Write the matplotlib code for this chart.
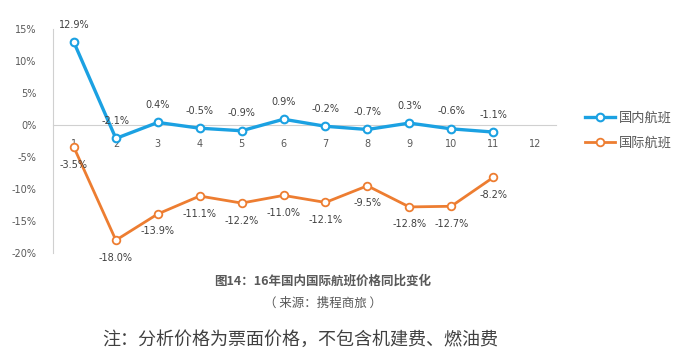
import matplotlib
matplotlib.use("Agg")
import matplotlib.pyplot as plt

plt.rcParams['font.family'] = ['Noto Sans CJK SC', 'DejaVu Sans']

categories = ["1", "2", "3", "4", "5", "6", "7", "8", "9", "10", "11", "12"]
domestic = [12.9, -2.1, 0.4, -0.5, -0.9, 0.9, -0.2, -0.7, 0.3, -0.6, -1.1]
international = [-3.5, -18.0, -13.9, -11.1, -12.2, -11.0, -12.1, -9.5, -12.8, -12.7, -8.2]
yticks = [-20, -15, -10, -5, 0, 5, 10, 15]
series_names = ["国内航班", "国际航班"]
title = "图14：16年国内国际航班价格同比变化"
subtitle = "（ 来源：携程商旅 ）"
note = "注：分析价格为票面价格，不包含机建费、燃油费"

W, H = 693, 359
fig = plt.figure(figsize=(W / 100, H / 100), dpi=100)
ax = fig.add_axes([53 / W, 1 - 253 / H, (556 - 53) / W, (253 - 29) / H])

blue = "#1BA1E2"
orange = "#ED7D31"
xs = list(range(1, len(categories) + 1))

ax.spines['bottom'].set_position(('data', 0))
ax.spines['bottom'].set_color("#D0D0D0")
ax.spines['left'].set_color("#D0D0D0")
ax.spines['top'].set_visible(False)
ax.spines['right'].set_visible(False)

l1, = ax.plot(xs[:len(domestic)], domestic, color=blue, lw=2.4, marker="o",
              ms=5.5, mfc="white", mec=blue, mew=1.5, label=series_names[0], zorder=3)
l2, = ax.plot(xs[:len(international)], international, color=orange, lw=2.0, marker="o",
              ms=5.5, mfc="white", mec=orange, mew=1.3, label=series_names[1], zorder=3)

for x, v in zip(xs, domestic):
    ax.annotate(f"{v:.1f}%", (x, v), xytext=(0, 9), textcoords="offset points",
                ha="center", va="bottom", fontsize=7, color="#404040", family="DejaVu Sans")
for x, v in zip(xs, international):
    ax.annotate(f"{v:.1f}%", (x, v), xytext=(0, -9), textcoords="offset points",
                ha="center", va="top", fontsize=7, color="#404040", family="DejaVu Sans")

ax.set_xlim(0.5, len(categories) + 0.5)
ax.set_ylim(-20, 15)
ax.set_yticks(yticks)
ax.set_yticklabels([f"{t}%" for t in yticks], fontsize=7, color="#595959", family="DejaVu Sans")
ax.set_xticks(xs)
ax.set_xticklabels(categories, fontsize=7, color="#595959", family="DejaVu Sans")
ax.tick_params(axis='x', length=0, pad=10)
ax.tick_params(axis='y', length=0, pad=12)

leg = fig.legend(handles=[l1, l2], loc="upper left", bbox_to_anchor=(573 / W, 1 - 100 / H),
                 frameon=False, fontsize=9.5, labelcolor="#595959", handlelength=2.3,
                 handletextpad=0.3, labelspacing=0.9)

fig.text(323 / W, 1 - 281 / H, title, ha="center", va="center", fontsize=9,
         fontweight="bold", color="#595959")
fig.text(323 / W, 1 - 303 / H, subtitle, ha="center", va="center", fontsize=9,
         color="#595959")
fig.text(102 / W, 1 - 340 / H, note, ha="left", va="center", fontsize=13,
         color="#404040")

fig.savefig("out.png", dpi=100, facecolor="white")
